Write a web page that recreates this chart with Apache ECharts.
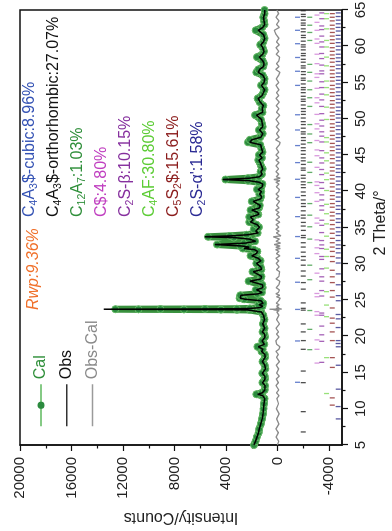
<!DOCTYPE html>
<html>
<head>
<meta charset="utf-8">
<script src="https://cdn.jsdelivr.net/npm/echarts@6/dist/echarts.min.js"></script>
<style>
  html, body { margin: 0; padding: 0; background: #fff; }
  #page { position: relative; width: 392px; height: 531px; overflow: hidden; }
  /* chart is laid out landscape and turned a quarter turn anticlockwise */
  #chart { position: absolute; left: 0; top: 0; width: 531px; height: 392px;
           transform-origin: 0 0; transform: translate(0, 531px) rotate(-90deg); }
</style>
</head>
<body>
<div id="page"><div id="chart"></div></div>
<script>
const twoTheta = [5.0,5.5,6.1,6.7,7.2,7.9,8.6,9.3,10.0,10.7,
  11.4,11.8,12.0,12.2,12.6,13.2,13.6,14.1,14.5,14.9,
  15.5,16.0,16.5,17.1,17.5,17.9,18.2,18.55,18.9,19.35,
  19.9,20.3,20.6,21.1,21.7,22.3,22.9,23.35,23.55,23.62,
  23.65,23.67,23.69,23.71,23.73,23.75,23.77,23.8,23.84,23.95,
  24.15,24.35,24.55,24.9,25.1,25.25,25.45,25.65,25.85,26.05,
  26.4,26.7,27.1,27.6,27.9,28.25,28.9,29.2,29.55,30.05,
  30.4,30.75,31.1,31.4,31.7,31.95,32.1,32.3,32.45,32.65,
  32.85,33.1,33.4,33.6,33.72,33.85,34.0,34.25,34.5,34.75,
  35.05,35.4,35.75,36.05,36.45,36.8,37.1,37.4,37.7,38.05,
  38.6,38.95,39.3,39.6,39.95,40.25,40.6,41.0,41.25,41.45,
  41.62,41.8,42.0,42.35,42.7,43.1,43.5,43.95,44.3,44.6,
  45.0,45.4,45.9,46.4,46.75,47.1,47.45,47.95,48.45,48.9,
  49.35,49.9,50.5,50.9,51.4,51.8,52.3,52.8,53.2,53.6,
  54.0,54.6,55.0,55.5,56.0,56.4,56.8,57.2,57.6,58.0,
  58.5,58.9,59.3,59.8,60.2,60.6,61.1,61.6,62.2,62.6,
  63.0,63.5,64.0,64.5,65.0]

const obsCounts = [1840,1720,1600,1480,1420,1310,1200,1140,1090,1050,
  1000,1150,1550,1180,990,980,1170,970,1000,1180,
  940,990,1180,960,1000,1240,1150,1500,1020,1200,
  970,1020,1180,1000,1150,1010,1100,1250,1400,2300,
  3300,4600,7500,11000,13500,9200,5800,3200,2100,1350,
  1150,1450,1110,1300,2500,2900,2750,2850,1500,1200,
  1630,1150,1180,2150,1300,1240,1890,1250,1300,1630,
  1300,1500,2000,1650,1550,1800,2600,2200,2800,4850,
  2500,1700,2200,3300,5650,3600,2300,1500,1700,1800,
  1400,1600,2100,1900,2100,1450,1550,2000,1400,1350,
  1900,1300,1250,1400,1250,1500,1200,1150,1450,2200,
  4250,2200,1400,1200,1300,1150,1250,1350,1450,1200,
  1400,1150,1250,1300,2150,2000,1300,1150,1400,1150,
  1200,1250,1630,1150,1200,1100,1350,1500,1200,1100,
  1000,1250,1050,1000,1150,1500,1400,1100,1050,1150,
  1430,1150,1050,1150,1300,1100,1000,1100,1500,1150,
  1000,1050,1100,1000,1000]

const calCounts = [1830,1710,1610,1470,1430,1300,1210,1130,1090,1060,
  1010,1200,1650,1230,1000,980,1180,980,1000,1190,
  950,1000,1170,970,1000,1250,1160,1570,1030,1190,
  980,1020,1170,1010,1140,1020,1110,1270,1420,2150,
  3160,4400,7270,10800,12600,9100,5640,3160,2150,1400,
  1170,1490,1120,1320,2600,2950,2850,2900,1580,1220,
  1700,1160,1190,2250,1320,1250,1950,1260,1310,1650,
  1320,1540,2100,1680,1570,1850,2700,2250,2900,4700,
  2600,1750,2250,3400,5400,3700,2400,1550,1750,1850,
  1450,1650,2200,2000,2200,1500,1580,2100,1450,1380,
  2000,1350,1280,1420,1270,1600,1250,1180,1500,2300,
  4050,2300,1450,1220,1320,1160,1280,1380,1500,1220,
  1450,1170,1260,1350,2300,2150,1350,1160,1450,1160,
  1220,1300,1750,1170,1220,1110,1400,1550,1230,1110,
  1010,1280,1060,1010,1160,1650,1500,1120,1060,1160,
  1600,1180,1060,1160,1350,1110,1010,1110,1700,1200,
  1010,1060,1110,1010,1010]

const diffCounts = [20,-90,110,-60,130,-100,70,-120,90,-70,
  60,-110,-160,80,-90,120,-60,100,-130,70,
  -80,110,-140,90,-60,130,-100,-170,80,140,
  -110,90,-70,120,-150,80,-100,60,-130,220,
  160,280,330,380,620,-320,-240,-150,120,-90,
  70,-120,100,-80,-140,-200,90,-160,130,-70,
  -130,110,-90,-170,120,-100,-150,90,-120,110,
  -90,130,-180,100,-110,150,-210,140,-190,260,
  -230,120,-140,-180,330,-250,-120,100,-130,140,
  -100,120,-170,130,-160,90,-110,150,-120,80,
  -150,110,-90,120,-80,-140,100,-110,130,-170,
  280,-200,110,-90,120,-80,130,-110,140,-100,
  120,-90,100,-130,-190,150,-120,90,-130,100,
  -110,120,-160,90,-100,110,-120,130,-90,80,
  -100,120,-90,110,-80,-170,140,-110,90,-100,
  -160,110,-90,120,-130,80,-100,110,260,-140,
  90,-110,120,-80,60]

// Bragg reflection positions (2 theta) for each phase
const cubicPeaks = [13.65,19.35,23.7,27.45,30.75,33.75,36.5,39.15,41.65,43.95,46.3,48.45,50.55,54.6,56.55,58.45,60.35,62.2,64.0]
const orthoPeaks = [6.8,9.6,13.6,15.2,18.2,19.4,20.6,21.7,23.6,23.85,24.6,26.5,27.4,28.3,29.0,29.8,30.5,31.0,31.6,32.3,
  32.9,33.6,33.9,34.6,35.2,35.7,36.3,36.7,37.3,37.9,38.3,38.8,39.4,39.9,40.5,40.9,41.3,41.8,42.2,42.9,
  43.2,43.7,44.2,44.6,45.1,45.6,46.0,46.5,47.0,47.4,47.9,48.2,48.7,49.2,49.6,50.1,50.6,51.0,51.4,51.9,
  52.4,52.7,53.1,53.6,54.0,54.3,54.8,55.3,55.6,56.1,56.5,57.0,57.3,57.8,58.2,58.7,59.0,59.5,59.9,60.2,
  60.7,61.2,61.5,62.0,62.4,62.9,63.2,63.6,64.1,64.4,64.9]
const c12a7Peaks = [18.15,20.95,23.55,27.8,29.8,33.4,35.1,36.7,38.3,41.2,42.6,44.0,46.7,47.9,49.2,51.7,52.9,54.0,55.2,56.4,57.5,60.8,61.9,62.9,64.0]
const anhydritePeaks = [16.3,18.2,19.5,22.9,23.4,25.45,25.9,28.7,31.4,32.2,33.3,35.6,36.3,38.6,39.8,40.8,41.3,43.3,44.9,45.7,
  47.0,48.6,49.3,50.6,52.2,52.9,54.2,55.7,56.2,57.6,58.9,60.4,61.0,62.2,63.3,64.3]
const betaC2sPeaks = [16.4,19.3,20.2,21.4,22.9,23.2,25.55,26.3,27.6,28.2,29.3,30.6,31.0,32.1,32.6,33.2,34.3,35.3,36.0,37.4,
  38.0,38.8,39.5,40.4,41.2,42.3,43.0,43.9,44.6,45.6,46.8,47.6,48.2,49.0,49.8,50.7,51.7,52.6,53.4,54.3,
  55.1,56.2,56.6,57.4,58.3,59.0,59.9,60.6,61.4,62.3,62.8,63.8,64.6]
const c4afPeaks = [12.1,17.05,22.7,24.3,26.15,29.4,31.0,32.0,33.8,35.5,36.9,38.2,40.1,41.6,42.5,44.2,45.3,46.8,47.4,49.9,
  51.6,53.3,54.3,55.2,57.3,58.5,59.9,60.8,62.4,63.8,64.5]
const ternesitePeaks = [10.5,11.5,15.7,17.05,19.4,20.6,21.8,22.5,23.9,25.4,26.3,27.4,28.2,29.1,30.3,31.0,31.7,32.3,32.9,33.5,
  34.2,34.8,35.4,36.0,36.6,37.1,37.8,38.3,38.9,39.4,40.0,40.6,41.1,41.7,42.2,42.8,43.3,43.9,44.5,45.0,
  45.6,46.1,46.6,47.2,47.7,48.3,48.8,49.3,49.9,50.4,50.9,51.5,52.0,52.5,53.1,53.6,54.1,54.6,55.2,55.7,
  56.2,56.7,57.2,57.8,58.3,58.8,59.3,59.8,60.4,60.9,61.4,61.9,62.4,62.9,63.5,64.0,64.5]
const alphaC2sPeaks = [8.6,10.3,12.7,16.0,18.55,19.0,19.4,21.2,22.4,23.0,24.9,25.6,27.1,28.6,30.1,30.8,31.5,32.1,32.6,33.2,
  33.9,34.4,35.0,35.7,36.2,36.9,37.5,38.0,38.6,39.2,39.8,40.3,40.9,41.4,42.0,42.6,43.1,43.6,44.2,44.7,
  45.3,45.8,46.3,46.9,47.4,47.9,48.5,49.0,49.5,50.1,50.6,51.1,51.6,52.2,52.7,53.2,53.7,54.3,54.8,55.3,
  55.8,56.3,56.9,57.4,57.9,58.4,58.9,59.5,60.0,60.5,61.0,61.5,62.1,62.6,63.1,63.6,64.1,64.6]

// counts level at which each phase's reflection row sits
const tickRowLevels = [-1550, -2000, -2500, -3050, -3420, -3800, -4250, -4700]

const phaseNames = ['C_4A_3$-cubic', 'C_4A_3$-orthorhombic', 'C_{12}A_7', 'C$', 'C_2S-β', 'C_4AF', 'C_5S_2$', "C_2S-α'"]
const phaseShares = ['8.96', '27.07', '1.03', '4.80', '10.15', '30.80', '15.61', '1.58']
const rwpText = 'Rwp:9.36%'

const intensityLabels = [-4000, 0, 4000, 8000, 12000, 16000, 20000]
const intensityMinor = [-2000, 2000, 6000, 10000, 14000, 18000]

const FONT = "'Liberation Sans', Arial, sans-serif"
const phaseColors = ['#3452b4', '#111111', '#2f8f3a', '#c03fc0', '#86309e', '#5ccc35', '#8b1c1c', '#2b2b94']
const tickColors = ['#4060c0', '#222222', '#3c9a44', '#d07fd6', '#8e3aa5', '#7ed957', '#8f2a2a', '#2f2f8a']

const chart = echarts.init(document.getElementById('chart'), null, { renderer: 'canvas' })

// 'C_4A_3$' -> rich text with subscript tokens
function toRich(raw) {
  let out = ''
  let buf = ''
  for (let i = 0; i < raw.length; i++) {
    const ch = raw[i]
    if (ch === '_') {
      if (buf) { out += '{m|' + buf + '}'; buf = '' }
      let sub
      if (raw[i + 1] === '{') {
        const end = raw.indexOf('}', i)
        sub = raw.slice(i + 2, end)
        i = end
      } else {
        sub = raw[i + 1]
        i++
      }
      out += '{s|' + sub + '}'
    } else {
      buf += ch
    }
  }
  if (buf) out += '{m|' + buf + '}'
  return out
}

const phaseSets = [cubicPeaks, orthoPeaks, c12a7Peaks, anhydritePeaks, betaC2sPeaks, c4afPeaks, ternesitePeaks, alphaC2sPeaks]

const tickSeries = phaseSets.map((set, idx) => ({
  name: 'refl' + idx,
  type: 'scatter',
  silent: true,
  symbol: 'rect',
  symbolSize: [1.3, 5],
  itemStyle: { color: tickColors[idx] },
  data: set.map(t => [t, tickRowLevels[idx]]),
  z: 1
}))

const labelGraphics = phaseNames.map((n, i) => ({
  type: 'text',
  x: 314,
  y: 21.5 + i * 24,
  silent: true,
  style: {
    text: toRich(n + ':' + phaseShares[i] + '%'),
    fill: phaseColors[i],
    font: '16px ' + FONT,
    align: 'left',
    verticalAlign: 'top',
    rich: {
      m: { fontSize: 16, fontFamily: FONT, lineHeight: 16, fill: phaseColors[i] },
      s: { fontSize: 10.5, fontFamily: FONT, lineHeight: 10, padding: [10, 0, 0, 0], fill: phaseColors[i] }
    }
  }
}))

const option = {
  animation: false,
  backgroundColor: '#fff',
  textStyle: { fontFamily: FONT },
  grid: {
    left: 86, right: 10, top: 20, bottom: 50,
    show: true, borderColor: '#111', borderWidth: 1.5,
    outerBoundsMode: 'none'
  },
  legend: {
    orient: 'vertical',
    left: 99,
    top: 28,
    itemWidth: 42,
    itemHeight: 9,
    itemGap: 9.7,
    textStyle: { fontSize: 16, fontFamily: FONT },
    lineStyle: { width: 1.5 },
    data: [
      { name: 'Cal', textStyle: { color: '#2f8f3a' }, lineStyle: { color: '#5cb85c', width: 1.5 }, itemStyle: { color: '#2b8a3e', borderWidth: 0 } },
      { name: 'Obs', textStyle: { color: '#111' }, lineStyle: { color: '#333', width: 1.5 }, itemStyle: { opacity: 0 } },
      { name: 'Obs-Cal', textStyle: { color: '#8a8a8a' }, lineStyle: { color: '#9a9a9a', width: 1.5 }, itemStyle: { opacity: 0 } }
    ]
  },
  xAxis: {
    type: 'value', min: 5, max: 65, interval: 5,
    name: '2 Theta/°', nameLocation: 'middle', nameGap: 28,
    nameTextStyle: { fontSize: 16, color: '#222', fontFamily: FONT, padding: [0, 0, 0, 9] },
    axisLine: { onZero: false, lineStyle: { color: '#111', width: 1.5 } },
    axisTick: { length: 6, lineStyle: { color: '#111', width: 1.2 } },
    minorTick: { show: true, splitNumber: 2, length: 3.5, lineStyle: { color: '#111', width: 1.2 } },
    axisLabel: { fontSize: 15, color: '#222', margin: 11, fontFamily: FONT },
    splitLine: { show: false }
  },
  yAxis: [
    {
      type: 'value', min: -5000, max: 20000,
      name: 'Intensity/Counts', nameLocation: 'middle', nameGap: 58, nameRotate: 90,
      nameTextStyle: { fontSize: 16, color: '#222', fontFamily: FONT },
      axisLine: { show: true, onZero: false, lineStyle: { color: '#111', width: 1.5 } },
      axisTick: { show: true, length: 6, customValues: intensityLabels, lineStyle: { color: '#111', width: 1.2 } },
      axisLabel: {
        fontSize: 15, color: '#222', margin: 12, fontFamily: FONT,
        customValues: intensityLabels,
        formatter: v => String(v)
      },
      splitLine: { show: false }
    },
    {
      type: 'value', min: -5000, max: 20000, position: 'left',
      axisLine: { show: false },
      axisTick: { show: true, length: 3.5, customValues: intensityMinor, lineStyle: { color: '#111', width: 1.2 } },
      axisLabel: { show: false },
      splitLine: { show: false }
    }
  ],
  graphic: [
    {
      type: 'text', x: 221, y: 34, silent: true,
      style: { text: rwpText, fill: '#f0702a', font: 'italic 16px ' + FONT, align: 'left', verticalAlign: 'middle' }
    },
    ...labelGraphics
  ],
  series: [
    ...tickSeries,
    {
      name: 'Cal', type: 'line',
      data: twoTheta.map((t, i) => [t, calCounts[i]]),
      symbol: 'circle', symbolSize: 7, showSymbol: true, showAllSymbol: true,
      lineStyle: { color: '#3a923f', width: 7 },
      itemStyle: { color: '#2b8a3e', borderColor: '#66bb66', borderWidth: 1 },
      z: 2
    },
    {
      name: 'Obs', type: 'line',
      data: twoTheta.map((t, i) => [t, obsCounts[i]]),
      symbol: 'none',
      lineStyle: { color: '#000', width: 1.5 },
      z: 3
    },
    {
      name: 'Obs-Cal', type: 'line',
      data: twoTheta.map((t, i) => [t, diffCounts[i]]),
      symbol: 'none',
      lineStyle: { color: '#8a8a8a', width: 1.3 },
      z: 3
    }
  ]
}

chart.setOption(option)
</script>
</body>
</html>
